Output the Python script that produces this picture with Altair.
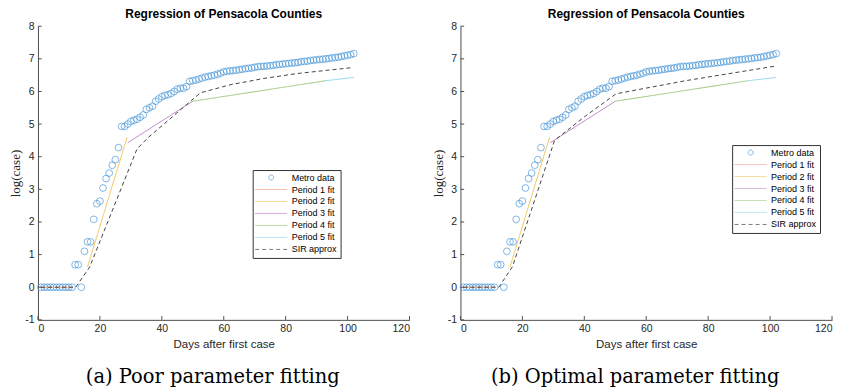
import altair as alt
import pandas as pd

# ---------------- data ----------------
metro_log_cases = [
    0, 0, 0, 0, 0, 0, 0, 0, 0, 0, 0,
    0.69, 0.69, 0.0, 1.10, 1.39, 1.39, 2.08, 2.56, 2.64, 3.04,
    3.33, 3.50, 3.74, 3.91, 4.28, 4.93, 4.93, 5.00, 5.08, 5.12,
    5.15, 5.21, 5.28, 5.45, 5.50, 5.55, 5.70, 5.77, 5.84, 5.88,
    5.90, 5.94, 6.00, 6.07, 6.10, 6.10, 6.15, 6.31, 6.33, 6.35,
    6.38, 6.41, 6.44, 6.46, 6.48, 6.50, 6.53, 6.56, 6.60, 6.62,
    6.63, 6.64, 6.65, 6.67, 6.68, 6.70, 6.71, 6.72, 6.74, 6.76,
    6.77, 6.77, 6.78, 6.79, 6.80, 6.82, 6.83, 6.84, 6.85, 6.86,
    6.87, 6.88, 6.89, 6.91, 6.92, 6.93, 6.95, 6.96, 6.97, 6.98,
    6.99, 7.00, 7.01, 7.03, 7.04, 7.05, 7.07, 7.09, 7.11, 7.13,
    7.16,
]
metro_days = list(range(1, len(metro_log_cases) + 1))

p1_days, p1_vals = [1, 11], [0.0, 0.0]
p2_days, p2_vals = [16, 28.8], [0.62, 4.60]
p3_days, p3_vals = [29, 50], [4.43, 5.70]
p4_days, p4_vals = [50, 93], [5.70, 6.33]
p5_days, p5_vals = [93, 102], [6.33, 6.43]

sir_a_days = [1, 12.2, 16.7, 32, 35.5, 49.5, 52.5, 62.3, 73, 83.8, 94.5, 101.5]
sir_a_vals = [0, 0, 0.62, 4.24, 4.58, 5.72, 5.96, 6.21, 6.40, 6.55, 6.66, 6.73]
sir_b_days = [1, 12.4, 16.8, 30.4, 40.4, 50.3, 72.7, 101.9]
sir_b_vals = [0, 0, 0.63, 4.50, 5.25, 5.93, 6.33, 6.78]

series_names = ["Metro data", "Period 1 fit", "Period 2 fit", "Period 3 fit",
                "Period 4 fit", "Period 5 fit", "SIR approx"]
series_colors = ["#3A8FD6", "#EE9C7E", "#F2C14E", "#B77DC2",
                 "#9DC57A", "#8ED3F2", "#444444"]
LINE = "M-6.4,0H6.4"
series_shapes = ["circle", LINE, LINE, LINE, LINE, LINE, LINE]
series_dash = [[1, 0], [1, 0], [1, 0], [1, 0], [1, 0], [1, 0], [4, 3]]

x_ticks = [0, 20, 40, 60, 80, 100, 120]
y_ticks = [-1, 0, 1, 2, 3, 4, 5, 6, 7, 8]

title_text = "Regression of Pensacola Counties"
x_title = "Days after first case"
y_title = "log(case)"
captions = ["(a) Poor parameter fitting", "(b) Optimal parameter fitting"]

# ---------------- build ----------------
W, H = 372, 294
FONT = "Liberation Sans"

color_scale = alt.Scale(domain=series_names, range=series_colors)
shape_scale = alt.Scale(domain=series_names, range=series_shapes)
dash_scale = alt.Scale(domain=series_names, range=series_dash)
xs = alt.Scale(domain=[0, 120], nice=False, zero=False)
ys = alt.Scale(domain=[-1, 8], nice=False, zero=False)

x_axis = alt.Axis(values=x_ticks, grid=False, tickSize=0,
                  labelPadding=4, titlePadding=4,
                  labelFont=FONT, labelFontSize=10.5,
                  titleFont=FONT, titleFontSize=11.5,
                  titleFontWeight="normal", labelOverlap=False,
                  labelExpr="toString(datum.value)",
                  labelColor="#262626", titleColor="#262626",
                  domainColor="#4d4d4d")
y_axis = alt.Axis(values=y_ticks, grid=False, tickSize=0,
                  labelPadding=4, titlePadding=2,
                  labelFont=FONT, labelFontSize=10.5,
                  titleFont="Liberation Serif", titleFontSize=13,
                  titleFontWeight="normal", labelOverlap=False,
                  labelExpr="toString(datum.value)",
                  labelColor="#262626", titleColor="#262626",
                  domainColor="#4d4d4d")


def X(field):
    return alt.X(field, scale=xs, axis=x_axis, title=x_title)


def Y(field):
    return alt.Y(field, scale=ys, axis=y_axis, title=y_title)


def legend(lx, ly):
    return alt.Legend(
        title=None, orient="none", legendX=lx, legendY=ly,
        strokeColor="#333333", fillColor="white", padding=3,
        labelFont=FONT, labelFontSize=9, labelColor="black",
        symbolSize=25, symbolStrokeWidth=1, rowPadding=2,
        symbolOffset=11, labelOffset=16, cornerRadius=0,
    )


def panel(sir_days, sir_vals, lx, ly, caption):
    leg = legend(lx, ly)
    pts = pd.DataFrame({"day": metro_days, "val": metro_log_cases,
                        "series": "Metro data"})
    rows = []
    for name, dd, vv in [("Period 1 fit", p1_days, p1_vals),
                         ("Period 2 fit", p2_days, p2_vals),
                         ("Period 3 fit", p3_days, p3_vals),
                         ("Period 4 fit", p4_days, p4_vals),
                         ("Period 5 fit", p5_days, p5_vals)]:
        for i, (d, v) in enumerate(zip(dd, vv)):
            rows.append({"series": name, "day": d, "val": v, "o": i})
    fits = pd.DataFrame(rows)
    sir = pd.DataFrame({"series": "SIR approx", "day": sir_days,
                        "val": sir_vals, "o": list(range(len(sir_days)))})

    points = alt.Chart(pts).mark_point(filled=False, size=46, strokeWidth=0.9).encode(
        x=X("day:Q"), y=Y("val:Q"),
        color=alt.Color("series:N", scale=color_scale, legend=leg),
        shape=alt.Shape("series:N", scale=shape_scale, legend=leg),
    )
    fit_lines = alt.Chart(fits).mark_line(strokeWidth=1).encode(
        x=X("day:Q"), y=Y("val:Q"), order="o:Q",
        color=alt.Color("series:N", scale=color_scale, legend=leg),
        strokeDash=alt.StrokeDash("series:N", scale=dash_scale, legend=leg),
    )
    sir_line = alt.Chart(sir).mark_line(strokeWidth=1).encode(
        x=X("day:Q"), y=Y("val:Q"), order="o:Q",
        color=alt.Color("series:N", scale=color_scale, legend=leg),
        strokeDash=alt.StrokeDash("series:N", scale=dash_scale, legend=leg),
    )
    xtick_df = pd.DataFrame({"t": x_ticks, "lo": -1.0, "hi": -0.885})
    ytick_df = pd.DataFrame({"t": y_ticks, "lo": 0.0, "hi": 1.2})
    xt = alt.Chart(xtick_df).mark_rule(color="#4d4d4d", strokeWidth=1).encode(
        x=X("t:Q"), y=Y("lo:Q"), y2="hi:Q")
    yt = alt.Chart(ytick_df).mark_rule(color="#4d4d4d", strokeWidth=1).encode(
        y=Y("t:Q"), x=X("lo:Q"), x2="hi:Q")
    cap = alt.Chart(pd.DataFrame({"c": [caption]})).mark_text(
        font="DejaVu Serif", fontSize=19.5, color="black",
        baseline="alphabetic", align="center").encode(
        text="c:N", x=alt.value(175), y=alt.value(357))

    return alt.layer(points, fit_lines, sir_line, xt, yt, cap).properties(
        width=W, height=H,
        title=alt.TitleParams(title_text, font=FONT, fontSize=12,
                              fontWeight="bold", color="black", offset=0,
                              anchor="middle"),
    )


left = panel(sir_a_days, sir_a_vals, 215, 144, captions[0])
right = panel(sir_b_days, sir_b_vals, 272, 119, captions[1])

chart = alt.hconcat(left, right, spacing=21).resolve_scale(
    color="independent", shape="independent", strokeDash="independent"
).properties(
    padding={"left": 1, "top": 0, "right": 0, "bottom": 0}
).configure_view(stroke=None)

chart.save("out.html", embed_options={"renderer": "svg", "actions": False})
